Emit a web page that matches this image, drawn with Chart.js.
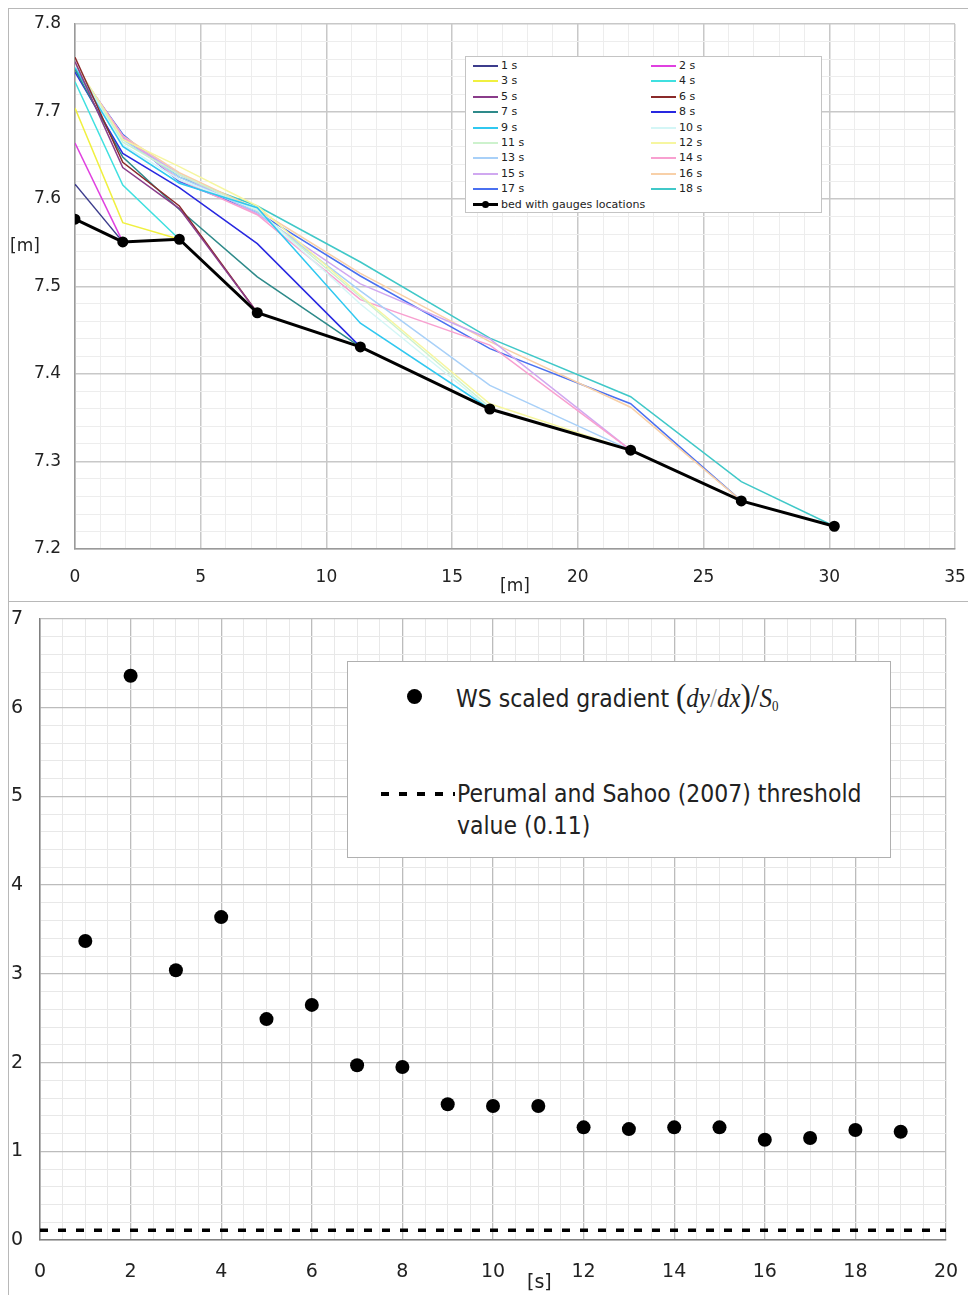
<!DOCTYPE html>
<html>
<head>
<meta charset="utf-8">
<title>Water surface profiles and scaled gradient</title>
<script src="https://cdn.jsdelivr.net/npm/chart.js@4.4.1/dist/chart.umd.min.js"></script>
<style>
  body { margin: 0; background: #fff; font-family: 'DejaVu Sans', sans-serif; color: #222; }
  #page { position: relative; width: 968px; height: 1295px; overflow: hidden; background: #fff; }
  .frame { position: absolute; background: #b8b8b8; }
  #topBox { position: absolute; left: 0; top: 0; width: 968px; height: 600px; }
  #bottomBox { position: absolute; left: 0; top: 600px; width: 968px; height: 695px; }
  .axis-title { position: absolute; line-height: 1; color: #222; }
  #legendTop {
    position: absolute; left: 465px; top: 56px; width: 357px; height: 157px;
    border: 1px solid #c4c4c4; background: #fff; box-sizing: border-box;
  }
  .lg-item { position: absolute; height: 14px; font-size: 11px; line-height: 14px; white-space: nowrap; }
  .lg-swatch { position: absolute; left: 0; top: 6px; width: 25px; height: 2px; }
  .lg-text { position: absolute; left: 28px; top: 0; }
  .lg-dot { position: absolute; left: 9px; top: -2px; width: 7px; height: 7px; border-radius: 50%; background: #000; }
  #legendBottom {
    position: absolute; left: 347px; top: 661px; width: 544px; height: 197px;
    border: 1px solid #b0b0b0; background: #fff; box-sizing: border-box;
  }
  .lb-text {
    position: absolute; font-size: 22px; line-height: 26px; white-space: nowrap;
    transform: scaleY(1.12); transform-origin: left center;
  }
  .math { font-family: 'Liberation Serif', 'DejaVu Serif', serif; font-size: 25px; }
  .math i { font-style: italic; }
  .math .paren { font-size: 31px; font-style: normal; }
  .math .thin { color: #888; }
  .math sub { font-size: 13px; vertical-align: -4px; }
</style>
</head>
<body>
<div id="page">
  <div class="frame" style="left:8px; top:8px; width:960px; height:1px;"></div>
  <div class="frame" style="left:8px; top:8px; width:1px; height:1287px;"></div>
  <div class="frame" style="left:8px; top:601px; width:960px; height:1px;"></div>

  <div id="topBox"><canvas id="profileChart"></canvas></div>
  <div id="bottomBox"><canvas id="gradientChart"></canvas></div>

  <div class="axis-title" style="left:10px; top:237px; font-size:17px;">[m]</div>
  <div class="axis-title" style="left:500px; top:577px; font-size:17px;">[m]</div>
  <div class="axis-title" style="left:527px; top:1272px; font-size:19px;">[s]</div>

  <div id="legendTop"></div>

  <div id="legendBottom">
    <div style="position:absolute; left:59px; top:27px; width:15px; height:15px; border-radius:50%; background:#000;"></div>
    <div class="lb-text" style="left:108px; top:21px;">WS scaled gradient
      <span class="math"><span class="paren">(</span><i>dy</i><span class="thin">/</span><i>dx</i><span class="paren">)</span><span class="paren">/</span><i>S</i><sub>0</sub></span>
    </div>
    <div id="dashSample" style="position:absolute; left:33px; top:130px; width:74px; height:4px;
      background: repeating-linear-gradient(to right, #000 0 8px, transparent 8px 18px);"></div>
    <div class="lb-text" style="left:109px; top:119px;">Perumal and Sahoo (2007) threshold</div>
    <div class="lb-text" style="left:109px; top:151px;">value (0.11)</div>
  </div>
</div>

<script>
// gauge positions along the channel [m] and bed level [m]
const gaugeX = [0, 1.9, 4.15, 7.25, 11.35, 16.5, 22.1, 26.5, 30.2];
const bedLevel = [7.577, 7.551, 7.554, 7.470, 7.431, 7.360, 7.313, 7.255, 7.226];
const bedLabel = 'bed with gauges locations';

const timeLabels = ['1 s', '2 s', '3 s', '4 s', '5 s', '6 s', '7 s', '8 s', '9 s',
  '10 s', '11 s', '12 s', '13 s', '14 s', '15 s', '16 s', '17 s', '18 s'];
const lineColors = ['#3c3c8c', '#e040e0', '#f0f040', '#40e0e0', '#8a3c8a', '#8a2a2a',
  '#2e8a8a', '#2828e0', '#30c8f0', '#d4f6f6', '#cdf2cd', '#f6f6a0', '#a8d0f8', '#f8a0d0',
  '#d0a8f0', '#f8d0a8', '#4a70f0', '#40c8c8'];

// water surface level at each gauge, up to where the front meets the bed
const ws1 = [7.617, 7.551];
const ws2 = [7.664, 7.551];
const ws3 = [7.704, 7.573, 7.554];
const ws4 = [7.734, 7.616, 7.554];
const ws5 = [7.757, 7.636, 7.589, 7.470];
const ws6 = [7.762, 7.642, 7.592, 7.470];
const ws7 = [7.748, 7.648, 7.588, 7.511, 7.431];
const ws8 = [7.745, 7.652, 7.613, 7.549, 7.431];
const ws9 = [7.750, 7.660, 7.618, 7.590, 7.458, 7.360];
const ws10 = [7.752, 7.662, 7.622, 7.588, 7.480, 7.360];
const ws11 = [7.754, 7.665, 7.628, 7.587, 7.488, 7.362];
const ws12 = [7.755, 7.668, 7.637, 7.592, 7.490, 7.366, 7.313];
const ws13 = [7.750, 7.668, 7.625, 7.585, 7.495, 7.387, 7.313];
const ws14 = [7.752, 7.672, 7.622, 7.582, 7.485, 7.433, 7.313];
const ws15 = [7.750, 7.670, 7.628, 7.583, 7.503, 7.440, 7.313];
const ws16 = [7.752, 7.672, 7.630, 7.588, 7.515, 7.437, 7.362, 7.255];
const ws17 = [7.750, 7.674, 7.620, 7.585, 7.512, 7.429, 7.366, 7.255];
const ws18 = [7.748, 7.670, 7.625, 7.592, 7.528, 7.441, 7.374, 7.277, 7.226];
const waterSurface = [ws1, ws2, ws3, ws4, ws5, ws6, ws7, ws8, ws9, ws10, ws11, ws12,
  ws13, ws14, ws15, ws16, ws17, ws18];

// scaled gradient per time step [s]
const gradientTime = [1, 2, 3, 4, 5, 6, 7, 8, 9, 10, 11, 12, 13, 14, 15, 16, 17, 18, 19];
const scaledGradient = [3.37, 6.36, 3.04, 3.64, 2.49, 2.65, 1.97, 1.95, 1.53, 1.51, 1.51,
  1.27, 1.25, 1.27, 1.27, 1.13, 1.15, 1.24, 1.22];
const thresholdValue = 0.11;
const thresholdSpan = [0, 20];

const tickFont = { family: 'DejaVu Sans', size: 17 };

function toPoints(values) {
  return values.map((y, i) => ({ x: gaugeX[i], y: y }));
}

function isMultiple(value, step) {
  const r = value / step;
  return Math.abs(r - Math.round(r)) < 1e-6;
}

// keep the plot area where the layout padding puts it
function fixWidth(width) {
  return scale => {
    scale.width = width;
    scale.paddingTop = 0;
    scale.paddingBottom = 0;
  };
}

function fixHeight(height) {
  return scale => {
    scale.height = height;
    scale.paddingLeft = 0;
    scale.paddingRight = 0;
  };
}

function buildTopLegend() {
  const box = document.getElementById('legendTop');
  let html = '';
  timeLabels.forEach((label, i) => {
    const col = i % 2;
    const row = Math.floor(i / 2);
    const left = col === 0 ? 7 : 185;
    const top = 2 + row * 15.4;
    html += `<div class="lg-item" style="left:${left}px; top:${top}px;">
      <span class="lg-swatch" style="background:${lineColors[i]}"></span>
      <span class="lg-text">${label}</span></div>`;
  });
  html += `<div class="lg-item" style="left:7px; top:${2 + 9 * 15.4}px;">
    <span class="lg-swatch" style="background:#000; height:3px; top:5px;"><span class="lg-dot"></span></span>
    <span class="lg-text">${bedLabel}</span></div>`;
  box.innerHTML = html;
}

function renderProfileChart() {
  const canvas = document.getElementById('profileChart');
  if (!canvas) return;

  const datasets = waterSurface.map((values, i) => ({
    label: timeLabels[i],
    data: toPoints(values),
    showLine: true,
    borderColor: lineColors[i],
    backgroundColor: lineColors[i],
    borderWidth: 1.5,
    pointRadius: 0,
    tension: 0
  }));
  datasets.push({
    label: bedLabel,
    data: toPoints(bedLevel),
    showLine: true,
    borderColor: '#000',
    backgroundColor: '#000',
    borderWidth: 3,
    pointRadius: 4,
    order: -1
  });

  new Chart(canvas.getContext('2d'), {
    type: 'scatter',
    data: { datasets: datasets },
    options: {
      responsive: true,
      maintainAspectRatio: false,
      animation: false,
      layout: { padding: { top: 24, right: 13, left: 0, bottom: 0 } },
      plugins: { legend: { display: false }, tooltip: { enabled: false } },
      scales: {
        x: {
          type: 'linear',
          min: 0,
          max: 35,
          afterFit: fixHeight(51),
          ticks: {
            stepSize: 1,
            autoSkip: false,
            maxRotation: 0,
            padding: 18,
            color: '#222',
            font: tickFont,
            callback: value => isMultiple(value, 5) ? value : ''
          },
          grid: {
            drawTicks: false,
            color: ctx => isMultiple(ctx.tick.value, 5) ? '#c8c8c8' : '#ededed',
            lineWidth: ctx => isMultiple(ctx.tick.value, 5) ? 1.5 : 1
          },
          border: { color: '#9a9a9a', width: 1.5 }
        },
        y: {
          min: 7.2,
          max: 7.8,
          afterFit: fixWidth(75),
          ticks: {
            stepSize: 0.02,
            autoSkip: false,
            padding: 14,
            color: '#222',
            font: tickFont,
            callback: value => isMultiple(value, 0.1) ? value.toFixed(1) : ''
          },
          grid: {
            drawTicks: false,
            color: ctx => isMultiple(ctx.tick.value, 0.1) ? '#c8c8c8' : '#ededed',
            lineWidth: ctx => isMultiple(ctx.tick.value, 0.1) ? 1.5 : 1
          },
          border: { color: '#9a9a9a', width: 1.5 }
        }
      }
    }
  });
}

function renderGradientChart() {
  const canvas = document.getElementById('gradientChart');
  if (!canvas) return;

  new Chart(canvas.getContext('2d'), {
    type: 'scatter',
    data: {
      datasets: [{
        label: 'WS scaled gradient (dy/dx)/S0',
        data: gradientTime.map((t, i) => ({ x: t, y: scaledGradient[i] })),
        pointRadius: 7,
        pointBackgroundColor: '#000',
        pointBorderColor: '#000',
        borderWidth: 0
      }, {
        label: 'Perumal and Sahoo (2007) threshold value (0.11)',
        data: thresholdSpan.map(x => ({ x: x, y: thresholdValue })),
        showLine: true,
        borderColor: '#000',
        borderWidth: 3.5,
        borderDash: [8, 10],
        pointRadius: 0
      }]
    },
    options: {
      responsive: true,
      maintainAspectRatio: false,
      animation: false,
      layout: { padding: { top: 19, right: 22, left: 0, bottom: 0 } },
      plugins: { legend: { display: false }, tooltip: { enabled: false } },
      scales: {
        x: {
          type: 'linear',
          min: 0,
          max: 20,
          afterFit: fixHeight(55),
          ticks: {
            stepSize: 0.5,
            autoSkip: false,
            maxRotation: 0,
            padding: 21,
            color: '#222',
            font: { family: 'DejaVu Sans', size: 19 },
            callback: value => isMultiple(value, 2) ? value : ''
          },
          grid: {
            drawTicks: false,
            color: ctx => isMultiple(ctx.tick.value, 2) ? '#bcbcbc' : '#e8e8e8',
            lineWidth: ctx => isMultiple(ctx.tick.value, 2) ? 1.3 : 1
          },
          border: { color: '#808080', width: 1.5 }
        },
        y: {
          min: 0,
          max: 7,
          afterFit: fixWidth(40),
          ticks: {
            stepSize: 0.2,
            autoSkip: false,
            padding: 17,
            color: '#222',
            font: { family: 'DejaVu Sans', size: 19 },
            callback: value => isMultiple(value, 1) ? Math.round(value) : ''
          },
          grid: {
            drawTicks: false,
            color: ctx => isMultiple(ctx.tick.value, 1) ? '#bcbcbc' : '#e8e8e8',
            lineWidth: ctx => isMultiple(ctx.tick.value, 1) ? 1.3 : 1
          },
          border: { color: '#808080', width: 1.5 }
        }
      }
    }
  });
}

document.addEventListener('DOMContentLoaded', () => {
  buildTopLegend();
  renderProfileChart();
  renderGradientChart();
});
</script>
</body>
</html>
